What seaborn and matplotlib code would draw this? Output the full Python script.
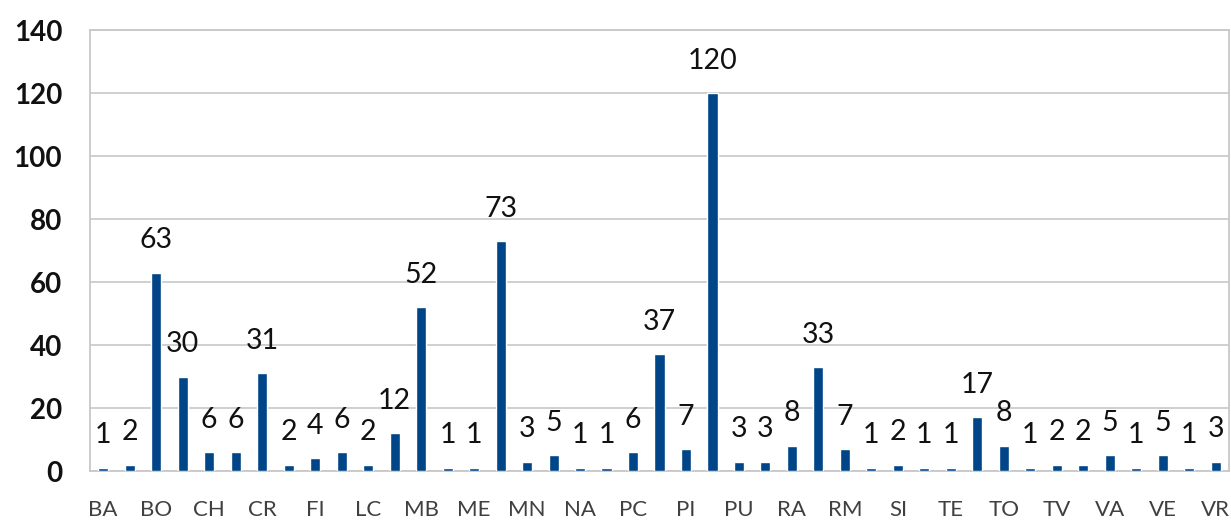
import matplotlib
matplotlib.use("Agg")
import matplotlib.pyplot as plt
import seaborn as sns
import pandas as pd

# Province codes (only every other one is shown on the axis) and counts
provinces = [
    "BA", "BG", "BO", "BS", "CH", "CO", "CR", "CT", "FI", "GE",
    "LC", "LO", "MB", "MC", "ME", "MI", "MN", "MO", "NA", "PA",
    "PC", "PD", "PI", "PR", "PU", "PV", "RA", "RE", "RM", "SA",
    "SI", "SV", "TE", "TN", "TO", "TS", "TV", "UD", "VA", "VC",
    "VE", "VI", "VR",
]
counts = [
    1, 2, 63, 30, 6, 6, 31, 2, 4, 6,
    2, 12, 52, 1, 1, 73, 3, 5, 1, 1,
    6, 37, 7, 120, 3, 3, 8, 33, 7, 1,
    2, 1, 1, 17, 8, 1, 2, 2, 5, 1,
    5, 1, 3,
]
y_ticks = [0, 20, 40, 60, 80, 100, 120, 140]

sns.set_theme(style="white")
plt.rcParams["font.family"] = ["Lato", "DejaVu Sans"]

df = pd.DataFrame({"provincia": provinces, "n": counts})

fig = plt.figure(figsize=(12.31, 5.2), dpi=100)
ax = fig.add_axes([0.0731, 0.0942, 0.9253, 0.848])

sns.barplot(data=df, x="provincia", y="n", color="#004587",
            saturation=1, width=0.38, ax=ax, zorder=3)

ax.bar_label(ax.containers[0], padding=14, fontsize=20.5, color="#111111")

ax.set_ylim(0, 140)
ax.set_yticks(y_ticks)
ax.set_yticklabels([str(t) for t in y_ticks], fontsize=20,
                   fontweight="bold", color="#111111")
ax.set_xticks(range(0, len(provinces), 2))
ax.set_xticklabels(provinces[::2], fontsize=16, color="#404040")
ax.set_xlim(-0.5, len(provinces) - 0.5)

ax.yaxis.grid(True, color="#cccccc", linewidth=1.3, zorder=0)
ax.set_axisbelow(True)
for side in ax.spines.values():
    side.set_color("#c8c8c8")
    side.set_linewidth(1.3)

ax.tick_params(axis="x", length=0, pad=21)
ax.tick_params(axis="y", length=0, pad=20)
ax.set_xlabel("")
ax.set_ylabel("")

fig.savefig("out.png", dpi=100, facecolor="white")
